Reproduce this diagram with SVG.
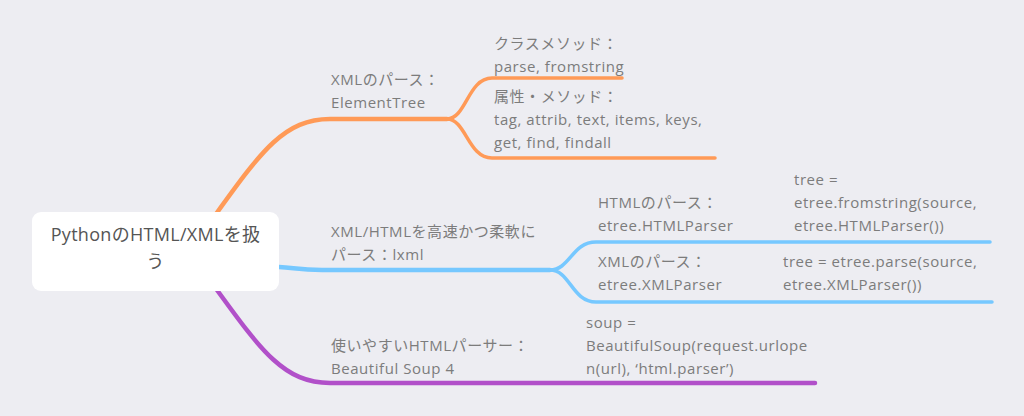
<svg xmlns="http://www.w3.org/2000/svg" width="1024" height="416" viewBox="0 0 1024 416">
<style>
.bg{fill:#EDEDF2}
.t{font-family:"Open Sans","Noto Sans CJK JP",sans-serif;font-size:15px;letter-spacing:0.55px;fill:#7c7c7c}
.c{font-family:"Open Sans","Noto Sans CJK JP",sans-serif;font-size:18px;letter-spacing:0.3px;fill:#555555;text-anchor:middle}
.ln{fill:none;stroke-linecap:round;stroke-linejoin:round}
.o{stroke:#FF9A57}
.b{stroke:#76C8FF}
.p{stroke:#B150C9}
.m{stroke-width:4.5}
.s{stroke-width:3.5}
</style>
<rect class="bg" x="0" y="0" width="1024" height="416"/>
<g id="connectors">
  <path class="ln o m" d="M216 214 C262 150 285 119 330 119 H447"/>
  <path class="ln o s" d="M447 119 C466 119 468 78 492 78 H622"/>
  <path class="ln o s" d="M447 119 C466 119 468 158 492 158 H715"/>
  <path class="ln b m" d="M279 267 C295 268 300 270 322 270 H550"/>
  <path class="ln b s" d="M550 270 C570 270 572 242 596 242 H990"/>
  <path class="ln b s" d="M550 270 C570 270 572 302 596 302 H992"/>
  <path class="ln p m" d="M217 290 C262 352 285 383 330 383 H815"/>
</g>
<g id="root">
  <rect x="32" y="212" width="247" height="79" rx="9" fill="#FFFFFF"/>
  <text class="c" x="155.5" y="241">PythonのHTML/XMLを扱</text>
  <text class="c" x="155.5" y="268">う</text>
</g>
<g id="n-elementtree">
  <text class="t" x="331" y="85">XMLのパース：</text>
  <text class="t" x="331" y="108">ElementTree</text>
</g>
<g id="n-classmethod">
  <text class="t" x="494" y="49">クラスメソッド：</text>
  <text class="t" x="494" y="72">parse, fromstring</text>
</g>
<g id="n-attr">
  <text class="t" x="494" y="102">属性・メソッド：</text>
  <text class="t" x="494" y="125">tag, attrib, text, items, keys,</text>
  <text class="t" x="494" y="148">get, find, findall</text>
</g>
<g id="n-lxml">
  <text class="t" x="331" y="237">XML/HTMLを高速かつ柔軟に</text>
  <text class="t" x="331" y="260">パース：lxml</text>
</g>
<g id="n-htmlparser">
  <text class="t" x="598" y="208">HTMLのパース：</text>
  <text class="t" x="598" y="231">etree.HTMLParser</text>
</g>
<g id="n-htmlcode">
  <text class="t" x="794" y="185">tree =</text>
  <text class="t" x="794" y="208">etree.fromstring(source,</text>
  <text class="t" x="794" y="231">etree.HTMLParser())</text>
</g>
<g id="n-xmlparser">
  <text class="t" x="598" y="267">XMLのパース：</text>
  <text class="t" x="598" y="290">etree.XMLParser</text>
</g>
<g id="n-xmlcode">
  <text class="t" x="783" y="267">tree = etree.parse(source,</text>
  <text class="t" x="783" y="290">etree.XMLParser())</text>
</g>
<g id="n-bs4">
  <text class="t" x="331" y="351">使いやすいHTMLパーサー：</text>
  <text class="t" x="331" y="374">Beautiful Soup 4</text>
</g>
<g id="n-bs4code">
  <text class="t" x="586" y="328">soup =</text>
  <text class="t" x="586" y="351">BeautifulSoup(request.urlope</text>
  <text class="t" x="586" y="374">n(url), ‘html.parser’)</text>
</g>
</svg>
